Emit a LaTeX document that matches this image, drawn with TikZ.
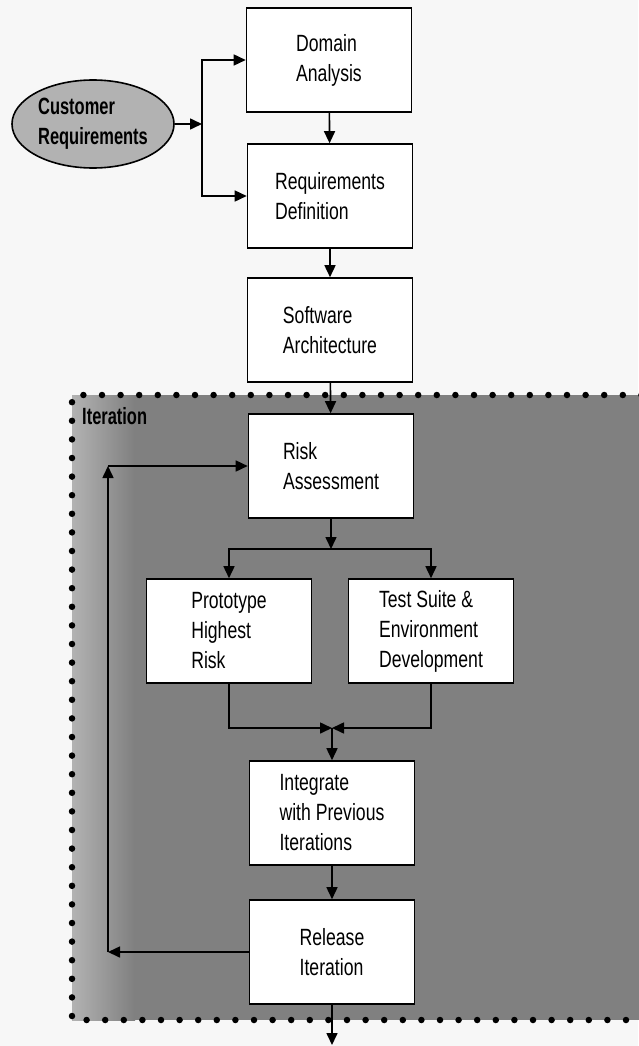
\documentclass[tikz,border=0pt]{standalone}
\usepackage{fontspec}
\setmainfont{Liberation Sans}[FakeStretch=0.75]
\newfontfamily\tagfont{Liberation Sans}[FakeStretch=0.70]
\usetikzlibrary{arrows.meta,shapes.geometric}

\tikzset{
  stage/.style={draw, line width=1.6pt, fill=white, minimum width=165pt, minimum height=104pt,
    inner sep=0pt, align=left, font=\fontsize{23.5}{30}\selectfont},
  flow/.style={line width=1.6pt, -{Triangle[length=12pt,width=11pt]}},
}

\begin{document}
\begin{tikzpicture}[x=1pt,y=-1pt]
  \useasboundingbox[fill=black!3] (0,0) rectangle (638,1046);

  % shaded iteration block, dotted edge
  \fill[black!50] (72,395) rectangle (660,1020);
  \shade[left color=black!30, right color=black!50] (72,395) rectangle (135,1020);
  \draw[line width=6.5pt, line cap=round, dash pattern=on 0pt off 18.6pt]
    (660,395) -- (72,395) -- (72,1020) -- (660,1020);
  \node[anchor=west, inner sep=0pt, font=\tagfont\bfseries\fontsize{23.5}{30}\selectfont] (iter) at (82,416) {Iteration};

  \node[ellipse, draw, line width=1.6pt, fill=black!30, minimum width=162pt, minimum height=88pt,
    inner sep=0pt, align=left, font=\tagfont\bfseries\fontsize{23.5}{30}\selectfont] (cust) at (93,124) {Customer\\Requirements};

  \node[stage] (dom) at (329,60) {Domain\\Analysis};
  \node[stage] (reqdef) at (330,196) {Requirements\\Definition};
  \node[stage] (arch) at (330,330) {Software\\Architecture};
  \node[stage] (risk) at (331,466) {Risk\\Assessment};
  \node[stage] (proto) at (229,631) {Prototype\\Highest\\Risk};
  \node[stage] (test) at (431,631) {Test Suite \&\\Environment\\Development};
  \node[stage] (integ) at (332,813) {Integrate\\with Previous\\Iterations};
  \node[stage] (rel) at (332,952) {Release\\Iteration};

  \coordinate (split) at (202,124);
  \coordinate (fork) at (331,549);
  \coordinate (join) at (332,728);
  \coordinate (loopb) at (108,952);
  \coordinate (loopt) at (108,466);
  \coordinate (out) at (332,1045);

  \draw[flow] (cust) -- (split);
  \draw[flow] (split) |- (dom.west);
  \draw[flow] (split) |- (reqdef.west);
  \draw[flow] (dom) -- (reqdef);
  \draw[flow] (reqdef) -- (arch);
  \draw[flow] (arch) -- (risk);

  \draw[flow] (risk) -- (fork);
  \draw[flow] (fork) -| (proto.north);
  \draw[flow] (fork) -| (test.north);
  \draw[flow] (proto.south) |- (join);
  \draw[flow] (test.south) |- (join);
  \draw[flow] (join) -- (integ);
  \draw[flow] (integ) -- (rel);
  \draw[flow] (rel) -- (out);

  % back round to the next iteration
  \draw[flow] (rel.west) -- (loopb);
  \draw[flow] (loopb) -- (loopt);
  \draw[flow] (loopt) -- (risk.west);
\end{tikzpicture}
\end{document}
